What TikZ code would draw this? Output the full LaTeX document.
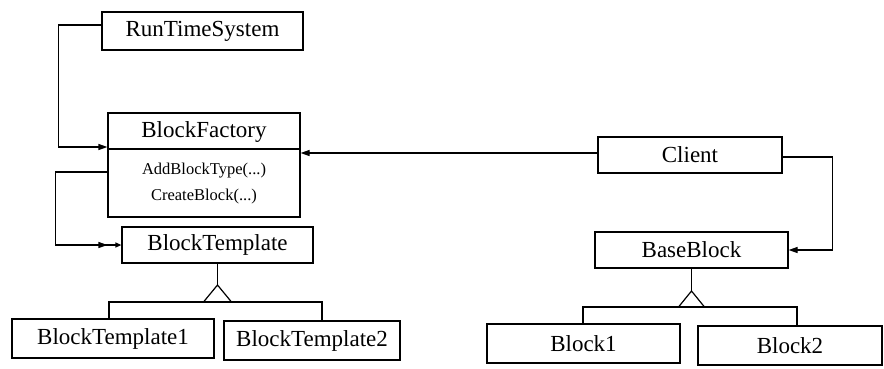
\documentclass[tikz,border=0pt]{standalone}
\usepackage{fontspec}
\setmainfont{Liberation Serif}
\usetikzlibrary{arrows.meta,calc}

\tikzset{
  cls/.style={draw, line width=1.2pt, inner sep=0pt, anchor=center,
              font=\fontsize{23}{27}\selectfont},
  wire/.style={line width=1.2pt},
  arr/.style={wire, -{Triangle[length=9pt,width=6pt]}},
  dblarr/.style={wire, -{Triangle[length=9pt,width=6pt,sep=8pt]Triangle[length=6pt,width=5pt]}},
  ops/.style={font=\fontsize{16.5}{19}\selectfont, inner sep=0pt, anchor=center}
}

\begin{document}
\begin{tikzpicture}[x=1pt,y=-1pt]
  \useasboundingbox (0,0) rectangle (884,368);

  % classes
  \node[cls, minimum width=201pt, minimum height=38pt] (rts) at (202.5,31) {RunTimeSystem};
  \node[cls, minimum width=192pt, minimum height=104pt] (bf) at (204,165) {};
  \draw[wire] (bf.west |- 0,149) -- (bf.east |- 0,149);
  \node[ops, font=\fontsize{23}{27}\selectfont] (bftitle) at (204,132) {BlockFactory};
  \node[ops] (op1) at (204,171) {AddBlockType(...)};
  \node[ops] (op2) at (204,197) {CreateBlock(...)};

  \node[cls, minimum width=191pt, minimum height=36pt] (bt) at (217.5,245) {BlockTemplate};
  \node[cls, minimum width=202pt, minimum height=39pt] (bt1) at (113,338.5) {BlockTemplate1};
  \node[cls, minimum width=176pt, minimum height=39pt] (bt2) at (312,340.5) {BlockTemplate2};

  \node[cls, minimum width=184pt, minimum height=36pt] (client) at (690,155) {Client};
  \node[cls, minimum width=193pt, minimum height=36pt] (bb) at (691.5,250) {BaseBlock};
  \node[cls, minimum width=193pt, minimum height=39pt] (b1) at (583.5,343.5) {Block1};
  \node[cls, minimum width=184pt, minimum height=39pt] (b2) at (790,345.5) {Block2};

  % associations
  \draw[arr] ([yshift=6pt]rts.west) -- ++(-43,0) |- ([yshift=18pt]bf.west);
  \draw[dblarr] ([yshift=-7pt]bf.west) -- ++(-52,0) |- (bt.west);
  \draw[arr] ([yshift=2pt]client.west) -- ([yshift=2pt]client.west -| bf.east);
  \draw[arr] ([yshift=-2pt]client.east) -- ++(50,0) |- (bb.east);

  % inheritance: BlockTemplate
  \coordinate (ta) at (217.5,285);
  \coordinate (tl) at (109,302);
  \coordinate (tr) at (322,302);
  \draw[wire] (bt.south) -- (ta);
  \draw[wire, line join=miter] (ta) -- ++(-14,17) -- ++(28,0) -- cycle;
  \draw[wire] (tl |- bt1.north) -- (tl) -- (tr) -- (tr |- bt2.north);

  % inheritance: BaseBlock
  \coordinate (ba) at (691.5,291);
  \coordinate (bl) at (583,307);
  \coordinate (br) at (797,307);
  \draw[wire] (bb.south) -- (ba);
  \draw[wire, line join=miter] (ba) -- ++(-13,16) -- ++(26,0) -- cycle;
  \draw[wire] (bl |- b1.north) -- (bl) -- (br) -- (br |- b2.north);
\end{tikzpicture}
\end{document}
